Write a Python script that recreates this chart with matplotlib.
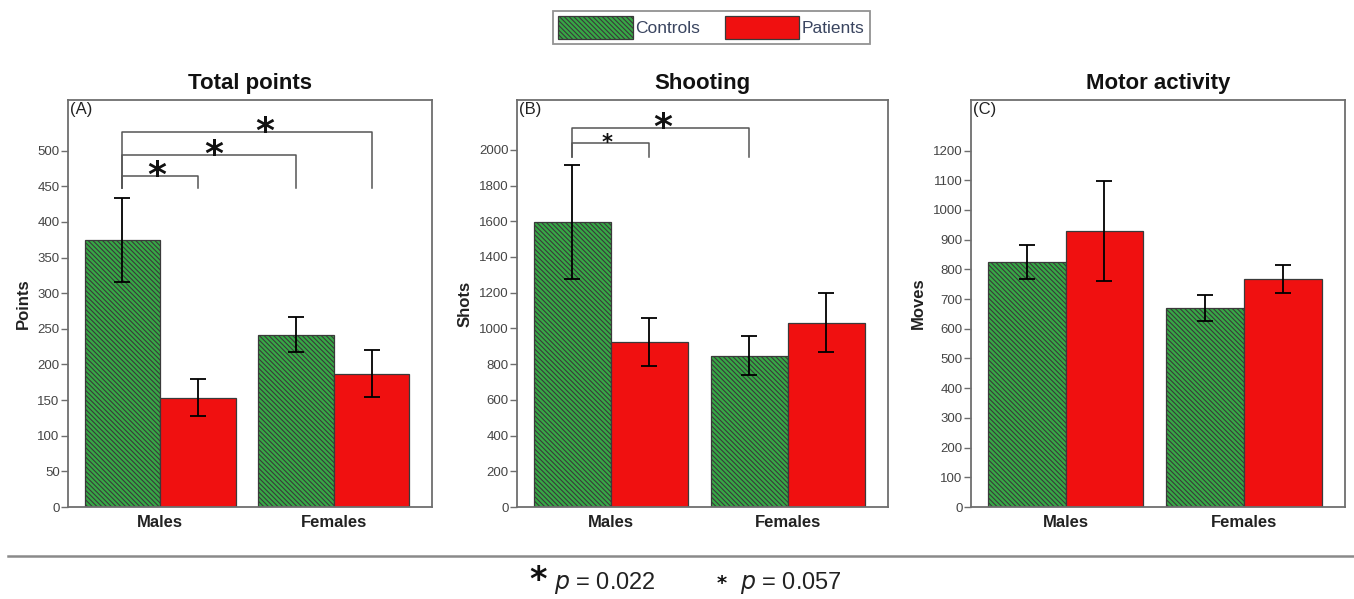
import matplotlib
matplotlib.use("Agg")
import matplotlib.pyplot as plt
from matplotlib.patches import Patch
from matplotlib.lines import Line2D
import numpy as np

plt.rcParams['font.family'] = ['Liberation Sans', 'DejaVu Sans']
plt.rcParams['hatch.linewidth'] = 0.8

groups = ["Males", "Females"]
series = ["Controls", "Patients"]

titles = ["Total points", "Shooting", "Motor activity"]
panel_tags = ["(A)", "(B)", "(C)"]
ylabels = ["Points", "Shots", "Moves"]

points_controls = [375, 242]
points_controls_err_low = [316, 218]
points_controls_err_high = [433, 266]
points_patients = [153, 187]
points_patients_err_low = [127, 154]
points_patients_err_high = [179, 220]

shots_controls = [1595, 848]
shots_controls_err_low = [1274, 737]
shots_controls_err_high = [1914, 957]
shots_patients = [925, 1033]
shots_patients_err_low = [792, 867]
shots_patients_err_high = [1060, 1201]

moves_controls = [825, 670]
moves_controls_err_low = [768, 627]
moves_controls_err_high = [883, 712]
moves_patients = [929, 767]
moves_patients_err_low = [761, 722]
moves_patients_err_high = [1096, 813]

y_max = [571, 2279, 1370]
y_step = [50, 200, 100]
y_top_tick = [500, 2000, 1200]

# significance brackets: (from bar index, to bar index, bracket level, tip level, star size)
# bar index: 0 = Males/Controls, 1 = Males/Patients, 2 = Females/Controls, 3 = Females/Patients
brackets_A = [(0, 1, 465, 447, "big"), (0, 2, 494, 447, "big"), (0, 3, 526, 447, "big")]
brackets_B = [(0, 1, 2037, 1962, "small"), (0, 2, 2124, 1962, "big")]
brackets_C = []
star_x_A = [-0.02, 0.31, 0.60]
star_x_B = [-0.02, 0.295]
star_x_C = []

data = [
    (points_controls, points_controls_err_low, points_controls_err_high,
     points_patients, points_patients_err_low, points_patients_err_high, brackets_A, star_x_A),
    (shots_controls, shots_controls_err_low, shots_controls_err_high,
     shots_patients, shots_patients_err_low, shots_patients_err_high, brackets_B, star_x_B),
    (moves_controls, moves_controls_err_low, moves_controls_err_high,
     moves_patients, moves_patients_err_low, moves_patients_err_high, brackets_C, star_x_C),
]

W, H = 1354, 599
fig = plt.figure(figsize=(W / 100, H / 100), dpi=100)

axes_px = [(68, 432), (517, 888), (971, 1345)]
top_px, bottom_px = 100, 507

green = '#36a845'
hatch_col = '#1c4f22'
red = '#f01010'
edge = '#3a3a3a'
spine_col = '#6e6e6e'
tick_col = '#444444'
HATCH = '\\' * 7

bw = 0.435
x = np.arange(len(groups))

for i, (c, cl, ch, p, pl, ph, brs, sx) in enumerate(data):
    l, r = axes_px[i]
    ax = fig.add_axes([l / W, 1 - bottom_px / H, (r - l) / W, (bottom_px - top_px) / H])
    xc = x - bw / 2
    xp = x + bw / 2
    with plt.rc_context({'hatch.color': hatch_col}):
        ax.bar(xc, c, bw, color=green, edgecolor=edge, linewidth=0.9, hatch=HATCH, zorder=2)
    ax.bar(xp, p, bw, color=red, edgecolor=edge, linewidth=0.9, zorder=2)
    c = np.array(c); p = np.array(p)
    ax.errorbar(xc, c, yerr=[c - np.array(cl), np.array(ch) - c], fmt='none',
                ecolor='black', elinewidth=1.3, capsize=6, capthick=1.3, zorder=3)
    ax.errorbar(xp, p, yerr=[p - np.array(pl), np.array(ph) - p], fmt='none',
                ecolor='black', elinewidth=1.3, capsize=6, capthick=1.3, zorder=3)

    barpos = [xc[0], xp[0], xc[1], xp[1]]
    for (a, b, lev, tip, size), sxx in zip(brs, sx):
        ax.plot([barpos[a], barpos[a], barpos[b], barpos[b]], [tip, lev, lev, tip],
                color='#555555', lw=1.1, zorder=3)
        if size == "big":
            ax.text(sxx, lev, '*', ha='center', va='center', fontsize=26,
                    fontweight='bold', family='DejaVu Sans', color='#111111')
        else:
            ax.text(sxx, lev, '*', ha='center', va='center', fontsize=15,
                    fontweight='bold', family='DejaVu Sans', color='#111111')

    ax.set_xlim(-0.53, 1.565)
    ax.set_ylim(0, y_max[i])
    ax.set_yticks(np.arange(0, y_top_tick[i] + 1, y_step[i]))
    ax.set_xticks(x)
    ax.set_xticklabels(groups, fontsize=12, fontweight='bold', color='#222222')
    ax.tick_params(axis='x', length=0, pad=6)
    ax.tick_params(axis='y', length=5, width=1, color=spine_col, labelsize=9.5,
                   labelcolor=tick_col, pad=1)
    for s in ax.spines.values():
        s.set_color(spine_col)
        s.set_linewidth(1.3)
    ax.set_ylabel(ylabels[i], fontsize=12, fontweight='bold', color='#222222', labelpad=5)
    ax.set_title(titles[i], fontsize=16, fontweight='bold', pad=8, color='#111111')
    ax.text(0.005, 0.995, panel_tags[i], transform=ax.transAxes, ha='left', va='top',
            fontsize=12, color='#222222')

handles = [Patch(facecolor=green, edgecolor=edge, hatch=HATCH, linewidth=0.9),
           Patch(facecolor=red, edgecolor=edge, linewidth=0.9)]
with plt.rc_context({'hatch.color': hatch_col}):
    leg = fig.legend(handles, series, loc='center', bbox_to_anchor=(711.5 / W, 1 - 27.5 / H),
                     ncol=2, fontsize=12.5, handlelength=4.3, handleheight=1.6,
                     frameon=True, fancybox=False, edgecolor='#777777', borderpad=0.3,
                     handletextpad=0.15, columnspacing=1.4, borderaxespad=0)
for t in leg.get_texts():
    t.set_color('#3a4560')
leg.get_frame().set_linewidth(1.3)

fig.add_artist(Line2D([8 / W, 1.0], [1 - 556 / H, 1 - 556 / H], color='#8a8a8a', lw=1.8,
                      transform=fig.transFigure))

fy = 1 - 583 / H
fig.text(538 / W, fy + 0.004, '*', ha='center', va='center', fontsize=24, fontweight='bold',
         family='DejaVu Sans', color='#111111')
fig.text(554 / W, fy, '$p$ = 0.022', ha='left', va='center', fontsize=17, color='#222222')
fig.text(722 / W, fy, '*', ha='center', va='center', fontsize=14, fontweight='bold',
         family='DejaVu Sans', color='#111111')
fig.text(740 / W, fy, '$p$ = 0.057', ha='left', va='center', fontsize=17, color='#222222')

fig.savefig('out.png', dpi=100)
